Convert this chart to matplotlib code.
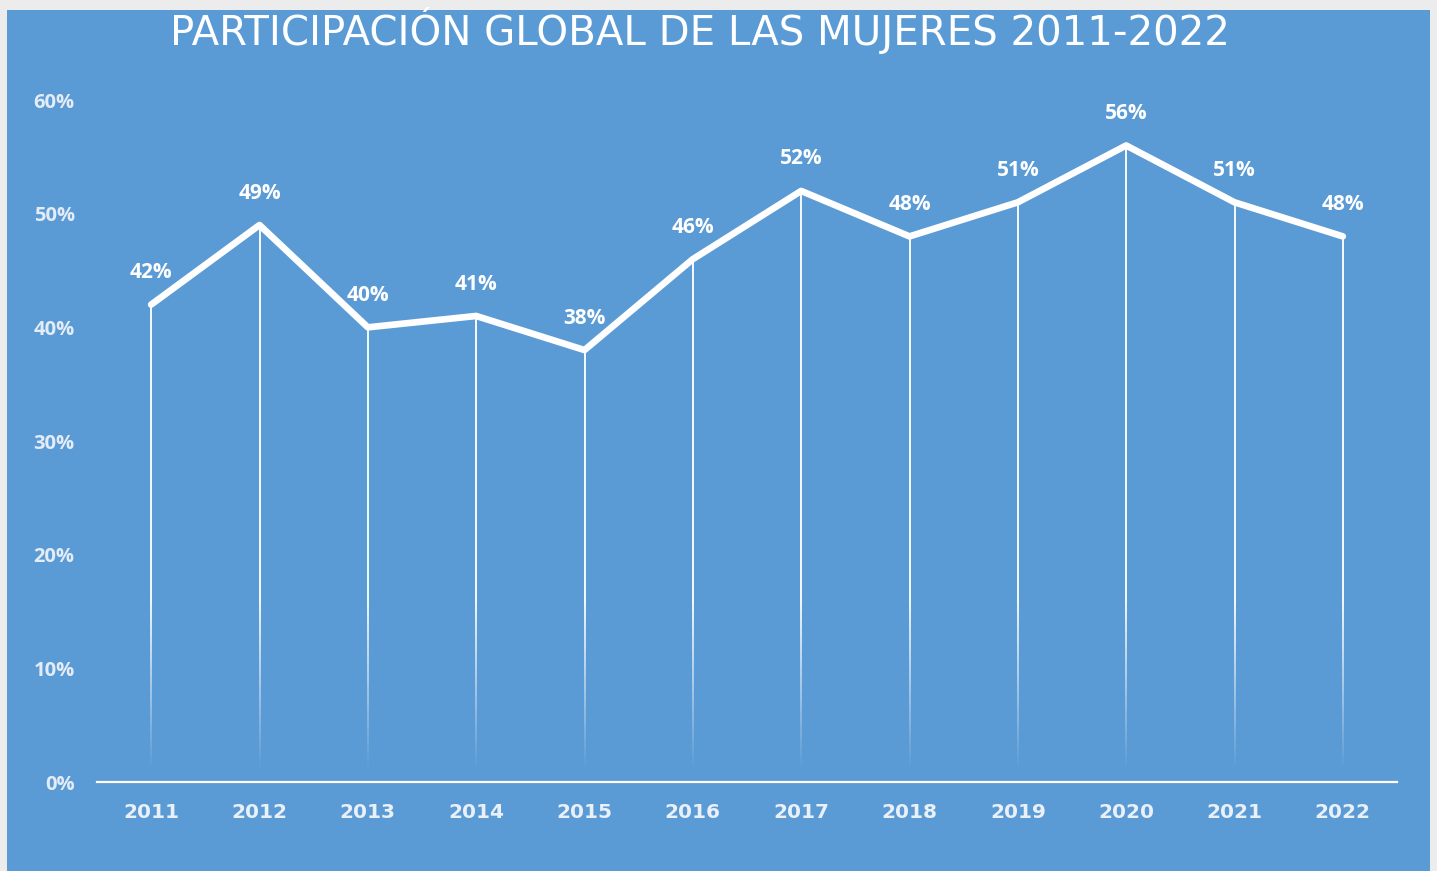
import matplotlib
matplotlib.use('Agg')
import matplotlib.pyplot as plt
import numpy as np
from matplotlib.collections import LineCollection
from matplotlib.patches import Rectangle
from matplotlib.ticker import FuncFormatter

years = ['2011', '2012', '2013', '2014', '2015', '2016',
         '2017', '2018', '2019', '2020', '2021', '2022']
share = [0.42, 0.49, 0.40, 0.41, 0.38, 0.46,
         0.52, 0.48, 0.51, 0.56, 0.51, 0.48]
title = 'PARTICIPACIÓN GLOBAL DE LAS MUJERES 2011-2022'

W, H = 1437, 871
BLUE = '#5B9BD5'


def main():
    fig = plt.figure(figsize=(W / 100, H / 100), dpi=100)
    fig.patch.set_facecolor('#ECECEC')
    fig.patches.append(Rectangle((7 / W, 0), 1423 / W, 861 / H,
                                 transform=fig.transFigure,
                                 facecolor=BLUE, edgecolor='none', zorder=-5))

    ax = fig.add_axes([97 / W, 89 / H, 1300 / W, 682 / H])
    ax.set_facecolor('none')
    x = np.arange(len(years))

    # fading drop lines
    segs, cols = [], []
    for xi, v in zip(x, share):
        ys = np.linspace(0, v, 120)
        for a, b in zip(ys[:-1], ys[1:]):
            segs.append([(xi, a), (xi, b)])
            alpha = np.clip((a - 0.01) / 0.15, 0, 1) * 0.95
            cols.append((1, 1, 1, alpha))
    ax.add_collection(LineCollection(segs, colors=cols, linewidths=1.4,
                                     zorder=2))

    ax.plot(x, share, color='white', lw=4.8, solid_joinstyle='round',
            solid_capstyle='round', zorder=3)

    for xi, v in zip(x, share):
        ax.annotate(f'{v * 100:.0f}%', (xi, v), xytext=(0, 23),
                    textcoords='offset points', ha='center', va='center',
                    color='white', fontsize=15, fontweight='bold',
                    family='Open Sans', zorder=4)

    ax.set_xlim(-0.5, len(years) - 0.5)
    ax.set_ylim(0, 0.6)
    ax.set_xticks(x)
    ax.set_xticklabels(years)
    ax.set_yticks(np.arange(0, 0.61, 0.1))
    ax.yaxis.set_major_formatter(FuncFormatter(lambda v, p: f'{v * 100:.0f}%'))

    for s in ['top', 'right', 'left']:
        ax.spines[s].set_visible(False)
    ax.spines['bottom'].set_color('white')
    ax.spines['bottom'].set_linewidth(1.6)

    ax.tick_params(axis='both', length=0)
    ax.tick_params(axis='y', pad=16, labelcolor='#E3ECF7', labelsize=14.5)
    ax.tick_params(axis='x', pad=15, labelcolor='#E9F0F8', labelsize=14.5)
    for lab in ax.get_yticklabels():
        lab.set_family('Open Sans')
        lab.set_fontweight('bold')
    for lab in ax.get_xticklabels():
        lab.set_family('DejaVu Sans')
        lab.set_fontweight('bold')

    fig.text(700 / W, 1 - 31 / H, title, ha='center', va='center',
             color='white', fontsize=29, family='DejaVu Sans')

    fig.savefig('out.png', dpi=100, facecolor=fig.get_facecolor())


if __name__ == '__main__':
    main()
